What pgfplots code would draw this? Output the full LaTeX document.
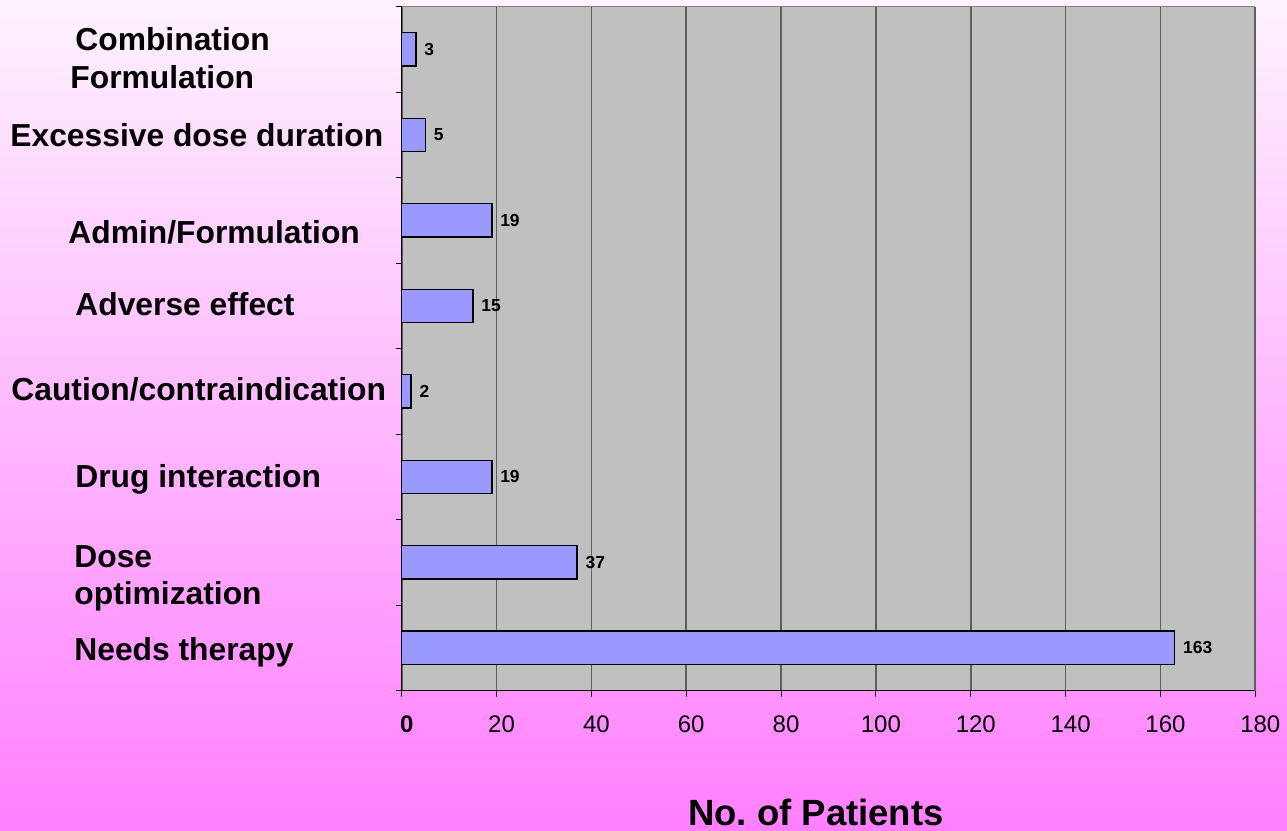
\documentclass[border=0pt]{standalone}
\usepackage{pgfplots}
\pgfplotsset{compat=1.18}
\usepackage{fontspec}
\setmainfont{Liberation Sans}

\definecolor{plotgray}{HTML}{C0C0C0}
\definecolor{barblue}{HTML}{9999FF}
\definecolor{gridgray}{HTML}{5F5F5F}
\definecolor{bgtop}{HTML}{FEF2FE}
\definecolor{bgmid}{HTML}{FFCCFF}
\definecolor{bgbot}{HTML}{FF80FF}

\newcommand{\catfont}{\bfseries\fontsize{15.9}{19}\selectfont}

\begin{document}
\begin{tikzpicture}
% canvas in pixel units (origin top left)
\begin{scope}[x=0.5pt,y=-0.5pt]
  \useasboundingbox (0,0) rectangle (1287,830);
  \shade[top color=bgtop, middle color=bgmid, bottom color=bgbot]
    (0,0) rectangle (1287,830);
\end{scope}

\begin{axis}[
  at={(200.85pt,-345pt)}, anchor=south west,
  scale only axis,
  width=426.8pt, height=342pt,
  xbar, bar width=16.7pt,
  xmin=0, xmax=180, ymin=-0.5, ymax=7.5,
  /pgf/number format/assume math mode=true,
  axis background/.style={fill=plotgray},
  axis x line*=bottom, axis y line*=left,
  axis line style={black, line width=0.5pt},
  xtick={0,20,...,180},
  xticklabels={\textbf{0},20,40,60,80,100,120,140,160,180},
  xticklabel style={font=\fontsize{12}{14}\selectfont, anchor=north, yshift=-6pt, xshift=2.5pt},
  ytick={-0.5,0.5,...,7.5},
  yticklabels={},
  tick align=outside,
  major tick length=3pt,
  tick style={black, line width=0.5pt},
  xmajorgrids,
  grid style={gridgray, line width=0.85pt},
  nodes near coords,
  nodes near coords align={horizontal},
  every node near coord/.append style={font=\bfseries\fontsize{8.7}{10}\selectfont, anchor=west, inner sep=0pt, xshift=3.9pt, black},
  clip=false,
]
\addplot[fill=barblue, draw=black, line width=0.7pt] coordinates {
  (163,0) (37,1) (19,2) (2,3) (15,4) (19,5) (5,6) (3,7)
};
\draw[gray, line width=0.5pt] (rel axis cs:0,1) -- (rel axis cs:1,1);
\draw[gridgray, line width=0.85pt] (rel axis cs:1,0) -- (rel axis cs:1,1);
\end{axis}

% category names and axis title, in pixel units
\begin{scope}[x=0.5pt,y=-0.5pt, every node/.style={inner sep=0pt}]
  \node[anchor=base west] at (75,50) {\catfont Combination};
  \node[anchor=base west] at (70,88) {\catfont Formulation};
  \node[anchor=base west] at (10,146) {\catfont Excessive dose duration};
  \node[anchor=base west] at (68,243) {\catfont Admin/Formulation};
  \node[anchor=base west] at (75,315) {\catfont Adverse effect};
  \node[anchor=base west] at (11,400) {\catfont Caution/contraindication};
  \node[anchor=base west] at (75,487) {\catfont Drug interaction};
  \node[anchor=base west] at (74,567) {\catfont Dose};
  \node[anchor=base west] at (74,604) {\catfont optimization};
  \node[anchor=base west] at (74,660) {\catfont Needs therapy};
  \node[anchor=base] at (816,825) {\bfseries\fontsize{18.25}{22}\selectfont No.\ of Patients};
\end{scope}
\end{tikzpicture}
\end{document}
